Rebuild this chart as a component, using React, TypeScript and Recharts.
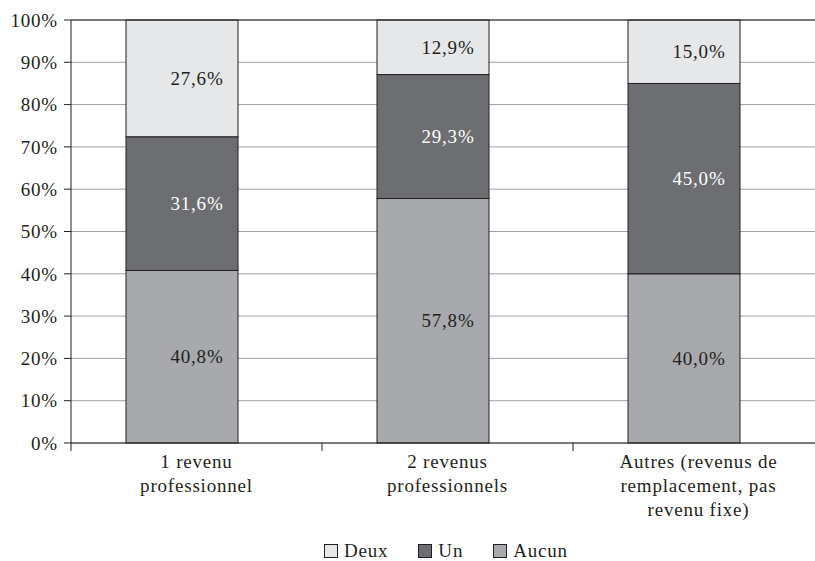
import React from "react";
import {
  BarChart,
  Bar,
  XAxis,
  YAxis,
  CartesianGrid,
  ReferenceLine,
  LabelList,
  Legend,
} from "recharts";

const categories = [
  "1 revenu\nprofessionnel",
  "2 revenus\nprofessionnels",
  "Autres (revenus de\nremplacement, pas\nrevenu fixe)",
];
const aucun = [40.8, 57.8, 40.0];
const un = [31.6, 29.3, 45.0];
const deux = [27.6, 12.9, 15.0];
const yTicks = [0, 10, 20, 30, 40, 50, 60, 70, 80, 90, 100];

const FONT = "Liberation Serif, DejaVu Serif, serif";
const TEXT_STYLE = { fontFamily: FONT, letterSpacing: 0.8 };
const INK = "#231f20";
const BAR_SHIFT = -15;

const data = categories.map((name, i) => ({
  name,
  Aucun: aucun[i],
  Un: un[i],
  Deux: deux[i],
}));

const series = [
  { key: "Deux", color: "#e6e7e9", text: INK },
  { key: "Un", color: "#6d6e71", text: "#ffffff" },
  { key: "Aucun", color: "#a7a9ac", text: INK },
];

const pct = (v: number) => `${v.toFixed(1).replace(".", ",")}%`;

// bars sit a little left of the category centre, labels stay centred
// eslint-disable-next-line @typescript-eslint/no-explicit-any
function ShiftedBar(props: any) {
  const { x, y, width, height, fill } = props;
  if (!height) return null;
  return (
    <rect
      x={x + BAR_SHIFT}
      y={y}
      width={width}
      height={height}
      fill={fill}
      stroke={INK}
      strokeWidth={1}
    />
  );
}

// eslint-disable-next-line @typescript-eslint/no-explicit-any
function CategoryTick(props: any) {
  const { x, y, payload } = props;
  const band = (props.width ?? 753) / categories.length;
  const lines = String(payload.value).split("\n");
  return (
    <g>
      <line x1={x - band / 2} x2={x - band / 2} y1={y} y2={y + 8} stroke={INK} />
      {lines.map((line, i) => (
        <text
          key={i}
          x={x}
          y={y + 25 + i * 24}
          textAnchor="middle"
          style={{ ...TEXT_STYLE, fontSize: 19 }}
          fill={INK}
        >
          {line}
        </text>
      ))}
    </g>
  );
}

function LegendBox() {
  return (
    <div
      style={{
        height: 30,
        display: "flex",
        alignItems: "flex-end",
        paddingLeft: 324,
        ...TEXT_STYLE,
        fontSize: 19,
        lineHeight: "20px",
        color: INK,
      }}
    >
      {series.map((s) => (
        <span key={s.key} style={{ display: "flex", alignItems: "center", marginRight: 30 }}>
          <span
            style={{
              display: "inline-block",
              width: 12,
              height: 12,
              background: s.color,
              border: `1px solid ${INK}`,
              marginRight: 6,
            }}
          />
          {s.key}
        </span>
      ))}
    </div>
  );
}

export default function App() {
  return (
    <div style={{ position: "absolute", left: 0, top: 0, background: "#fff" }}>
      <BarChart
        width={830}
        height={561}
        data={data}
        margin={{ top: 20, right: 6, left: 0, bottom: 0 }}
        barSize={112}
      >
        <CartesianGrid vertical={false} stroke="#a0a0a0" />
        <XAxis
          dataKey="name"
          height={88}
          interval={0}
          axisLine={{ stroke: INK }}
          tickLine={false}
          tickSize={0}
          tickMargin={0}
          tick={<CategoryTick />}
        />
        <YAxis
          width={71}
          domain={[0, 100]}
          ticks={yTicks}
          tickFormatter={(v) => `${v}%`}
          axisLine={{ stroke: INK }}
          tickLine={{ stroke: INK }}
          tickSize={7}
          tickMargin={6}
          tick={{ fill: INK, fontSize: 19, style: TEXT_STYLE }}
        />
        <ReferenceLine y={100} stroke={INK} />
        <Legend verticalAlign="bottom" height={30} content={<LegendBox />} />
        {[...series].reverse().map((s) => (
          <Bar
            key={s.key}
            dataKey={s.key}
            stackId="a"
            fill={s.color}
            shape={<ShiftedBar />}
            isAnimationActive={false}
          >
            <LabelList
              dataKey={s.key}
              position="center"
              formatter={(v: number) => pct(v)}
              fill={s.text}
              fontSize={19}
              style={TEXT_STYLE}
            />
          </Bar>
        ))}
      </BarChart>
    </div>
  );
}
